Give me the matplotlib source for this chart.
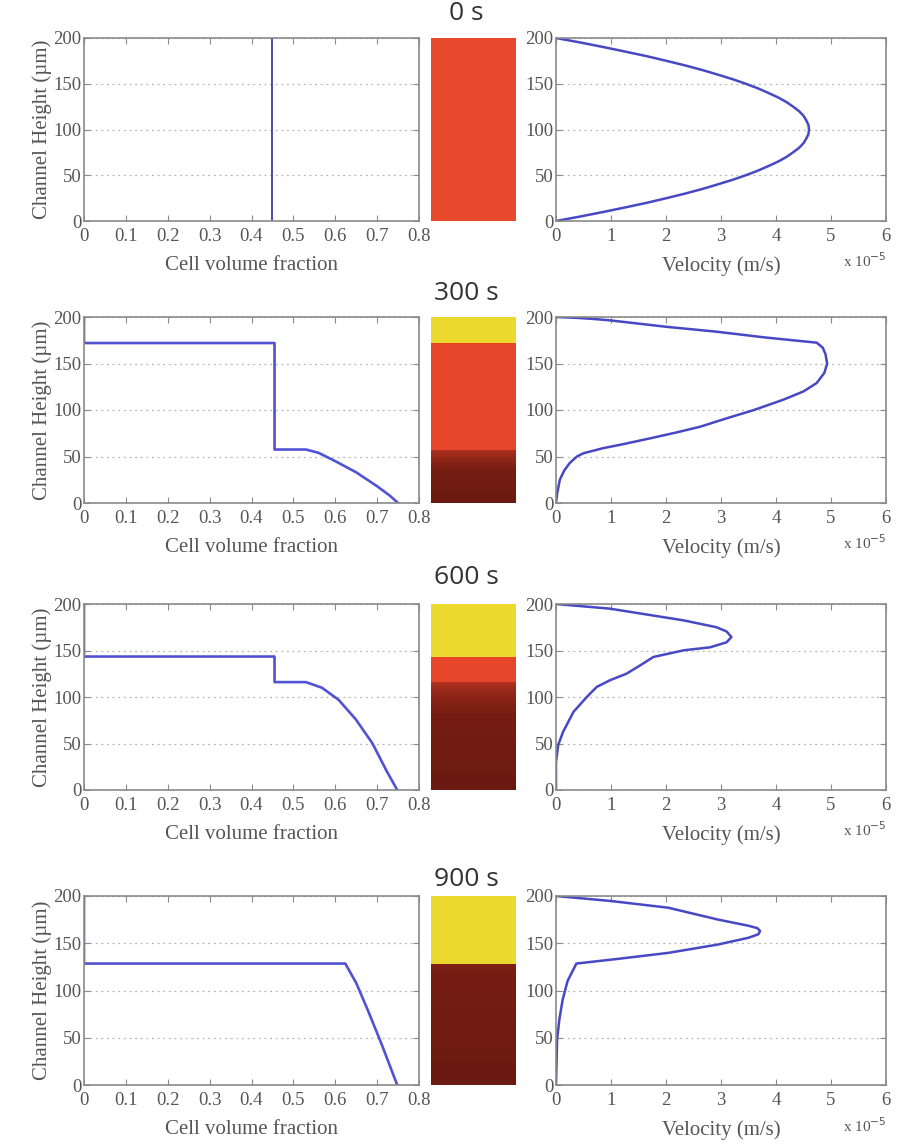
import numpy as np
import matplotlib
matplotlib.use("Agg")
import matplotlib.pyplot as plt
from matplotlib.colors import LinearSegmentedColormap

# ── Data ──────────────────────────────────────────────────────────────────────
times = ["0 s", "300 s", "600 s", "900 s"]

# cell volume fraction profiles (phi, height in um), top -> bottom
phi_0 = [0.45, 0.45]
h_phi_0 = [200, 0]

phi_300 = [0.0, 0.0, 0.455, 0.455, 0.53, 0.56, 0.60, 0.65, 0.70, 0.73, 0.75]
h_phi_300 = [200, 172, 172, 57.5, 57.5, 54, 45, 33, 18, 8, 0]

phi_600 = [0.0, 0.0, 0.455, 0.455, 0.53, 0.568, 0.608, 0.649, 0.689, 0.722, 0.748]
h_phi_600 = [200, 143.5, 143.5, 116, 116, 110, 97, 76, 50, 21, 0]

phi_900 = [0.0, 0.0, 0.624, 0.65, 0.677, 0.71, 0.748]
h_phi_900 = [200, 128.5, 128.5, 108, 80, 44, 0]

# velocity profiles (x 1e-5 m/s, height in um), bottom -> top
vel_0 = [0, 0.45, 0.87, 1.27, 1.66, 2.01, 2.35, 2.66, 2.94, 3.21, 3.45, 3.67,
         3.86, 4.04, 4.19, 4.31, 4.42, 4.50, 4.55, 4.59, 4.6,
         4.59, 4.55, 4.50, 4.42, 4.31, 4.19, 4.04, 3.86, 3.67, 3.45, 3.21,
         2.94, 2.66, 2.35, 2.01, 1.66, 1.27, 0.87, 0.45, 0]
h_vel_0 = list(range(0, 201, 5))

vel_300 = [0, 0.02, 0.07, 0.15, 0.25, 0.38, 0.5, 0.86, 1.2, 1.71, 2.2, 2.62,
           3.1, 3.6, 4.13, 4.5, 4.74, 4.88, 4.93, 4.9, 4.85, 4.74, 3.8,
           2.92, 2.0, 0.98, 0.7, 0.4, 0]
h_vel_300 = [0, 10, 25, 35, 43, 50, 53.5, 59, 63, 69.5, 76, 82,
             91, 100, 111, 120, 129, 140, 150, 160, 167, 172.4, 178,
             184.2, 189.5, 196.4, 197.8, 199, 200]

vel_600 = [0, 0, 0.04, 0.13, 0.32, 0.56, 0.74, 0.98, 1.28, 1.53, 1.77, 2.32,
           2.8, 3.1, 3.19, 3.1, 2.92, 2.32, 0.98, 0]
h_vel_600 = [0, 30, 48.4, 62.7, 84.2, 100, 110.8, 118, 125, 134, 143, 150.2,
             153.4, 158.8, 164.5, 170.5, 175, 182.4, 195, 200]

vel_900 = [0, 0.02, 0.06, 0.12, 0.21, 0.37, 1.13, 2.04, 2.95, 3.5, 3.68, 3.71,
           3.66, 3.5, 2.95, 2.04, 1.0, 0]
h_vel_900 = [0, 48, 69, 90, 110, 128.5, 133.5, 139.8, 148.7, 155.8, 159.5, 163,
             166, 168.5, 175, 187.6, 194.7, 200]

phi_profiles = [(phi_0, h_phi_0), (phi_300, h_phi_300),
                (phi_600, h_phi_600), (phi_900, h_phi_900)]
vel_profiles = [(vel_0, h_vel_0), (vel_300, h_vel_300),
                (vel_600, h_vel_600), (vel_900, h_vel_900)]

# ── Style ─────────────────────────────────────────────────────────────────────
plt.rcParams["font.family"] = ["Liberation Serif", "DejaVu Serif"]
plt.rcParams["font.size"] = 13
GRAY = "#8a8a8a"
TXT = "#555555"
BLUE = "#5252d4"

strip_cmap = LinearSegmentedColormap.from_list(
    "strip",
    [(0.0, "#ecd92e"), (0.46 / 0.76, "#e8452b"), (0.53 / 0.76, "#b3331f"),
     (0.64 / 0.76, "#761d13"), (1.0, "#6a1a11")])

fig = plt.figure(figsize=(9.1, 11.45), dpi=100)

# axes rows in pixel coords (top, bottom)
rows_px = [(38, 221), (317, 503), (604, 790), (896, 1085)]
title_px = [14, 293, 578, 879]
W, H = 910, 1145


def style_axes(ax):
    for sp in ax.spines.values():
        sp.set_color(GRAY)
        sp.set_linewidth(1.2)
    ax.tick_params(direction="in", length=4, color=GRAY, labelcolor=TXT,
                   top=True, right=True, labelsize=13.5)
    ax.tick_params(axis="x", pad=5)
    ax.tick_params(axis="y", pad=2)
    ax.set_ylim(0, 200)
    ax.set_yticks([0, 50, 100, 150, 200])
    ax.yaxis.grid(True, linestyle=(0, (1.5, 3)), color="#b5b5b5", linewidth=0.9)
    ax.set_axisbelow(True)


for i, (top, bot) in enumerate(rows_px):
    b = 1 - bot / H
    h = (bot - top) / H

    # left: concentration profile
    ax1 = fig.add_axes([84 / W, b, 335 / W, h])
    phi, hp = phi_profiles[i]
    lw = 1.3 if i == 0 else 1.9
    col = "#3c3caa" if i == 0 else BLUE
    ax1.plot(phi, hp, color=col, linewidth=lw)
    ax1.set_xlim(0, 0.8)
    ax1.set_xticks(np.arange(0, 0.81, 0.1))
    ax1.set_xticklabels(["0", "0.1", "0.2", "0.3", "0.4", "0.5", "0.6", "0.7", "0.8"])
    style_axes(ax1)
    ax1.set_xlabel("Cell volume fraction", color=TXT, labelpad=8, fontsize=15)
    ax1.set_ylabel("Channel Height (µm)", color=TXT, labelpad=1, fontsize=15)

    # middle: colour strip built from the same profile
    ax2 = fig.add_axes([431 / W, b, 85 / W, h])
    y_asc = np.array(hp[::-1], dtype=float)
    p_asc = np.array(phi[::-1], dtype=float)
    yy = np.linspace(0, 200, 400)
    col_vals = np.interp(yy, y_asc, p_asc)
    ax2.imshow(col_vals[:, None], cmap=strip_cmap, vmin=0, vmax=0.76,
               origin="lower", aspect="auto", extent=[0, 1, 0, 200],
               interpolation="nearest")
    ax2.axis("off")

    fig.text(466 / W, 1 - title_px[i] / H, times[i], ha="center", va="center",
             fontsize=19, color="#333333", family=["Open Sans", "DejaVu Sans"])

    # right: velocity profile
    ax3 = fig.add_axes([556 / W, b, 330 / W, h])
    v, hv = vel_profiles[i]
    ax3.plot(v, hv, color="#4848c4", linewidth=1.8)
    ax3.set_xlim(0, 6)
    ax3.set_xticks(range(0, 7))
    style_axes(ax3)
    ax3.set_xlabel("Velocity (m/s)", color=TXT, labelpad=8, fontsize=15)
    ax3.text(0.87, -0.215, r"x 10$^{-5}$", transform=ax3.transAxes,
             fontsize=11, color=TXT, ha="left", va="center")

fig.savefig("out.png", dpi=100)
